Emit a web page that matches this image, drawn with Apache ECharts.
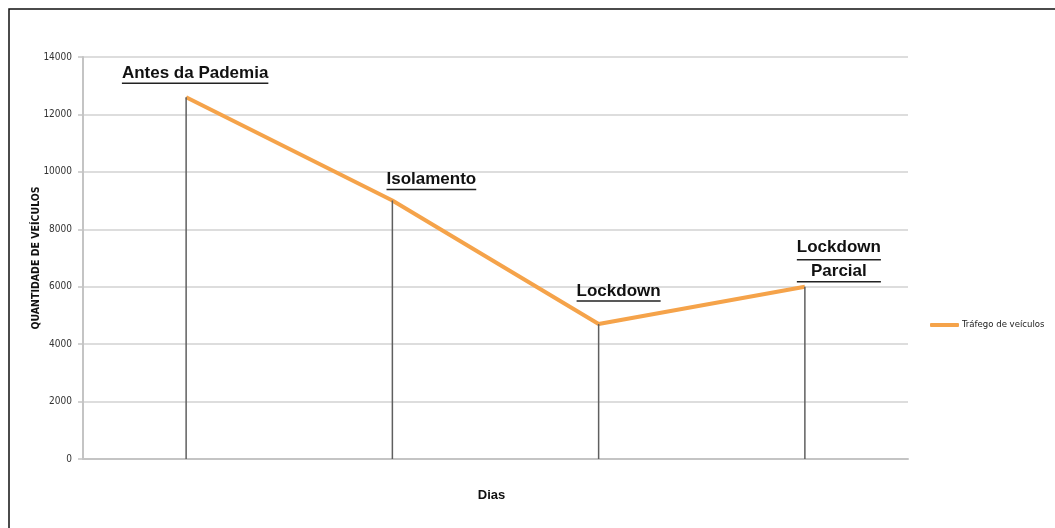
<!DOCTYPE html>
<html>
<head>
<meta charset="utf-8">
<script src="https://cdn.jsdelivr.net/npm/echarts@6/dist/echarts.min.js"></script>
<style>
  html, body { margin: 0; padding: 0; background: #fff; }
  #chart { width: 1055px; height: 528px; }
</style>
</head>
<body>
<div id="chart"></div>
<script>
// Periods of the pandemic and the measured vehicle traffic in each
const periods = ['Antes da Pademia', 'Isolamento', 'Lockdown', 'Lockdown\nParcial'];
const traffic = [12600, 9000, 4700, 6000];
const yTicks = [0, 2000, 4000, 6000, 8000, 10000, 12000, 14000];
const seriesName = 'Tráfego de veículos';

// Where each period caption sits relative to the top of its drop line
const captionOffsets = [[9, -12], [39, -9], [20, -21], [34, -3]];

const chart = echarts.init(document.getElementById('chart'));

// Each caption line is followed by a thin rule that underlines it
function captionText(text) {
  const lines = text.split('\n');
  return lines.map((s, i) => '{t|' + s + '}\n{' + (i < lines.length - 1 ? 'ug' : 'u') + '| }').join('\n');
}

chart.setOption({
  animation: false,
  backgroundColor: '#fff',
  graphic: [{
    type: 'rect',
    shape: { x: 9, y: 9, width: 1200, height: 700 },
    style: { fill: 'none', stroke: '#111', lineWidth: 1.5 },
    silent: true
  }],
  grid: { left: 83, right: 147, top: 57, bottom: 69 },
  legend: {
    data: [{ name: seriesName, icon: 'roundRect', itemStyle: { color: '#F5A34A' } }],
    orient: 'vertical',
    left: 925, top: 315,
    itemWidth: 29, itemHeight: 4, itemGap: 4,
    textStyle: { fontFamily: 'DejaVu Sans Condensed', fontSize: 9.5, color: '#222', padding: [0, 0, 0, -2] }
  },
  xAxis: {
    type: 'category',
    data: periods,
    boundaryGap: true,
    name: 'Dias',
    nameLocation: 'middle',
    nameGap: 30,
    nameTextStyle: { fontFamily: 'Liberation Sans', fontWeight: 'bold', fontSize: 13, color: '#111', padding: [0, 8, 0, 0] },
    axisLine: { lineStyle: { color: '#c4c4c4', width: 2 } },
    axisTick: { show: false },
    axisLabel: { show: false }
  },
  yAxis: {
    type: 'value',
    min: yTicks[0],
    max: yTicks[yTicks.length - 1],
    interval: yTicks[1] - yTicks[0],
    name: 'QUANTIDADE DE VEÍCULOS',
    nameLocation: 'middle',
    nameGap: 41,
    nameRotate: 90,
    nameMoveOverlap: false,
    nameTextStyle: { fontFamily: 'DejaVu Sans Condensed', fontWeight: 'bold', fontSize: 10.5, color: '#111' },
    axisLine: { show: true, lineStyle: { color: '#c4c4c4', width: 2 } },
    axisTick: { show: true, length: 5, lineStyle: { color: '#c4c4c4', width: 1.5 } },
    axisLabel: {
      fontFamily: 'DejaVu Sans Condensed', fontSize: 10, color: '#333', margin: 11,
      formatter: (v) => String(v)
    },
    splitLine: { lineStyle: { color: '#d2d2d2', width: 1.5 } }
  },
  series: [
    {
      // drop lines from each point down to the axis, carrying the period captions
      type: 'bar',
      data: traffic.map((v, i) => ({
        value: v,
        label: { offset: captionOffsets[i] }
      })),
      barWidth: 1.5,
      itemStyle: { color: '#5f5f5f' },
      silent: true,
      legendHoverLink: false,
      label: {
        show: true,
        position: 'top',
        distance: 0,
        align: 'center',
        formatter: (p) => captionText(periods[p.dataIndex]),
        rich: {
          t: { fontFamily: 'Liberation Sans', fontWeight: 'bold', fontSize: 17, color: '#111', lineHeight: 16, align: 'center' },
          u: { height: 1.5, lineHeight: 4, backgroundColor: '#222', width: '100%', fontSize: 1, align: 'left' },
          ug: { height: 1.5, lineHeight: 8, backgroundColor: '#222', width: '100%', fontSize: 1, align: 'left' }
        }
      },
      z: 3
    },
    {
      name: seriesName,
      type: 'line',
      data: traffic,
      symbol: 'none',
      lineStyle: { color: '#F5A34A', width: 4 },
      itemStyle: { color: '#F5A34A' },
      z: 2
    }
  ]
});
</script>
</body>
</html>
